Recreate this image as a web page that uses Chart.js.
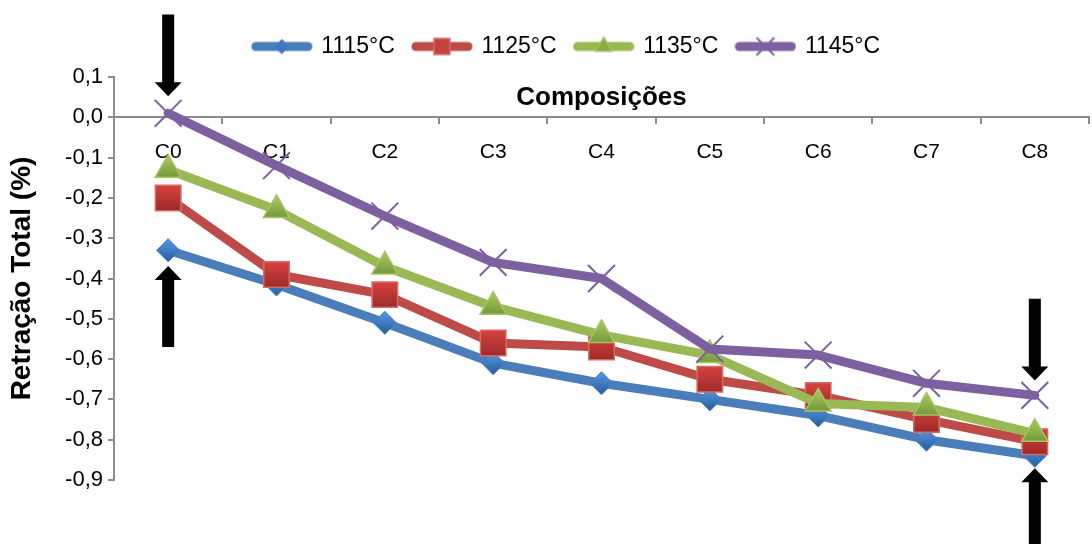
<!DOCTYPE html>
<html>
<head>
<meta charset="utf-8">
<script src="https://cdn.jsdelivr.net/npm/chart.js@4.4.1/dist/chart.umd.min.js"></script>
<style>
  html, body { margin: 0; padding: 0; background: #fff; overflow: hidden; }
</style>
</head>
<body>
<canvas id="retracao" width="1110" height="544"></canvas>
<script>
const composicoes = ['C0', 'C1', 'C2', 'C3', 'C4', 'C5', 'C6', 'C7', 'C8'];
const ret1115 = [-0.33, -0.415, -0.51, -0.61, -0.66, -0.70, -0.74, -0.80, -0.84];
const ret1125 = [-0.20, -0.39, -0.44, -0.56, -0.57, -0.65, -0.69, -0.75, -0.805];
const ret1135 = [-0.13, -0.23, -0.37, -0.47, -0.54, -0.59, -0.71, -0.72, -0.785];
const ret1145 = [0.01, -0.12, -0.245, -0.36, -0.40, -0.575, -0.59, -0.66, -0.69];

// black arrows marking C0 and C8 (values in % on the y scale)
const setas = [
  { at: 'C0', from: 0.255, to: 0.052 },
  { at: 'C0', from: -0.57, to: -0.369 },
  { at: 'C8', from: -0.45, to: -0.653 },
  { at: 'C8', from: -1.08, to: -0.871 }
];

const FONT = '"Liberation Sans", Arial, sans-serif';

const series = [
  { label: '1115°C', data: ret1115, line: '#4A7EBB', fill: '#3F78C2', top: '#5192DC', bottom: '#2C64A6', edge: '#4A7EBB', style: 'rectRot', r: 11.5, bw: 1 },
  { label: '1125°C', data: ret1125, line: '#BE4B48', fill: '#C4413E', top: '#D9423F', bottom: '#9C2926', edge: '#D46A67', style: 'rect', r: 18, bw: 1.5 },
  { label: '1135°C', data: ret1135, line: '#98B954', fill: '#8AAE45', top: '#A0C45A', bottom: '#6E9133', edge: '#A5C466', style: 'triangle', r: 15, bw: 1.5 },
  { label: '1145°C', data: ret1145, line: '#7D60A0', fill: '#7D60A0', edge: '#7D60A0', style: 'crossRot', r: 19, bw: 2 }
];

// vertical shading of a marker, top lighter, bottom darker
function shade(c, s) {
  const y = c.chart.scales.y;
  if (!s.top || !y || typeof c.raw !== 'number') return s.fill;
  const py = y.getPixelForValue(c.raw);
  if (!Number.isFinite(py)) return s.fill;
  const g = c.chart.ctx.createLinearGradient(0, py - s.r * 0.75, 0, py + s.r * 0.75);
  g.addColorStop(0, s.top);
  g.addColorStop(1, s.bottom);
  return g;
}

// small line + marker pictures for the legend
function swatch(s) {
  const c = document.createElement('canvas');
  c.width = 62; c.height = 26;
  const g = c.getContext('2d');
  g.strokeStyle = s.line;
  g.lineWidth = 9;
  g.lineCap = 'round';
  g.beginPath(); g.moveTo(5, 13); g.lineTo(57, 13); g.stroke();
  g.fillStyle = s.fill;
  g.strokeStyle = s.edge;
  g.lineWidth = s.bw;
  Chart.helpers.drawPoint(g, { pointStyle: s.style, radius: s.r * 0.62, borderWidth: s.bw, rotation: 0 }, 31, 13);
  return c;
}
const swatches = series.map(swatch);

// more room under the legend, and nudge it to the right
const legendSpacing = {
  id: 'legendSpacing',
  beforeInit(chart) {
    const fit = chart.legend.fit;
    chart.legend.fit = function () {
      fit.call(this);
      this.height += 9;
    };
  },
  afterLayout(chart) {
    chart.legend.left += 16;
    chart.legend.right += 16;
  }
};

const extras = {
  id: 'extras',
  afterDraw(chart) {
    const { ctx, chartArea, scales: { x, y } } = chart;
    ctx.save();
    ctx.fillStyle = '#000';
    ctx.font = 'bold 26px ' + FONT;
    ctx.textAlign = 'center';
    ctx.textBaseline = 'middle';
    ctx.fillText('Composições', (chartArea.left + chartArea.right) / 2, y.getPixelForValue(0) - 19);

    setas.forEach(a => {
      const px = x.getPixelForValue(composicoes.indexOf(a.at));
      const y0 = y.getPixelForValue(a.from);
      const y1 = y.getPixelForValue(a.to);
      const dir = Math.sign(y1 - y0);
      const yb = y1 - dir * 14;
      ctx.beginPath();
      ctx.moveTo(px - 6, y0);
      ctx.lineTo(px - 6, yb);
      ctx.lineTo(px - 13.5, yb);
      ctx.lineTo(px, y1);
      ctx.lineTo(px + 13.5, yb);
      ctx.lineTo(px + 6, yb);
      ctx.lineTo(px + 6, y0);
      ctx.closePath();
      ctx.fill();
    });
    ctx.restore();
  }
};

new Chart(document.getElementById('retracao'), {
  type: 'line',
  data: {
    labels: composicoes,
    datasets: series.map((s, i) => ({
      label: s.label,
      data: s.data,
      borderColor: s.line,
      backgroundColor: s.line,
      borderWidth: 9,
      borderJoinStyle: 'round',
      borderCapStyle: 'round',
      tension: 0,
      pointStyle: s.style,
      pointRadius: s.r,
      pointBackgroundColor: c => shade(c, s),
      pointBorderColor: s.edge,
      pointBorderWidth: s.bw,
      order: series.length - i
    }))
  },
  options: {
    responsive: false,
    animation: false,
    events: [],
    layout: { padding: { top: 16, right: 8, bottom: 64, left: 0 } },
    plugins: {
      tooltip: { enabled: false },
      legend: {
        position: 'top',
        labels: {
          usePointStyle: true,
          pointStyleWidth: 56,
          padding: 19,
          color: '#000',
          font: { family: FONT, size: 23 },
          sort: (a, b) => a.datasetIndex - b.datasetIndex,
          generateLabels(chart) {
            const items = Chart.defaults.plugins.legend.labels.generateLabels(chart);
            items.forEach(it => { it.pointStyle = swatches[it.datasetIndex]; });
            return items;
          }
        }
      }
    },
    scales: {
      x: {
        type: 'category',
        position: { y: 0 },
        offset: true,
        z: 1,
        grid: { display: true, drawOnChartArea: false, offset: true, tickLength: 6, color: '#8c8c8c', lineWidth: 2 },
        border: { color: '#8c8c8c', width: 2 },
        ticks: { color: '#000', font: { family: FONT, size: 21 }, padding: 16, maxRotation: 0, autoSkip: false }
      },
      y: {
        min: -0.9,
        max: 0.1,
        ticks: {
          stepSize: 0.1,
          color: '#000',
          padding: 5,
          font: { family: FONT, size: 22 },
          callback: v => (Math.abs(v) < 1e-9 ? 0 : v).toFixed(1).replace('.', ',')
        },
        grid: { drawOnChartArea: false, tickLength: 6, color: '#8c8c8c', lineWidth: 2 },
        border: { color: '#8c8c8c', width: 2 },
        title: {
          display: true,
          text: 'Retração Total (%)',
          color: '#000',
          font: { family: FONT, size: 28, weight: 'bold' },
          padding: { top: 5, bottom: 0 }
        },
        afterFit(scale) { scale.width = 114; }
      }
    }
  },
  plugins: [legendSpacing, extras]
});
</script>
</body>
</html>
